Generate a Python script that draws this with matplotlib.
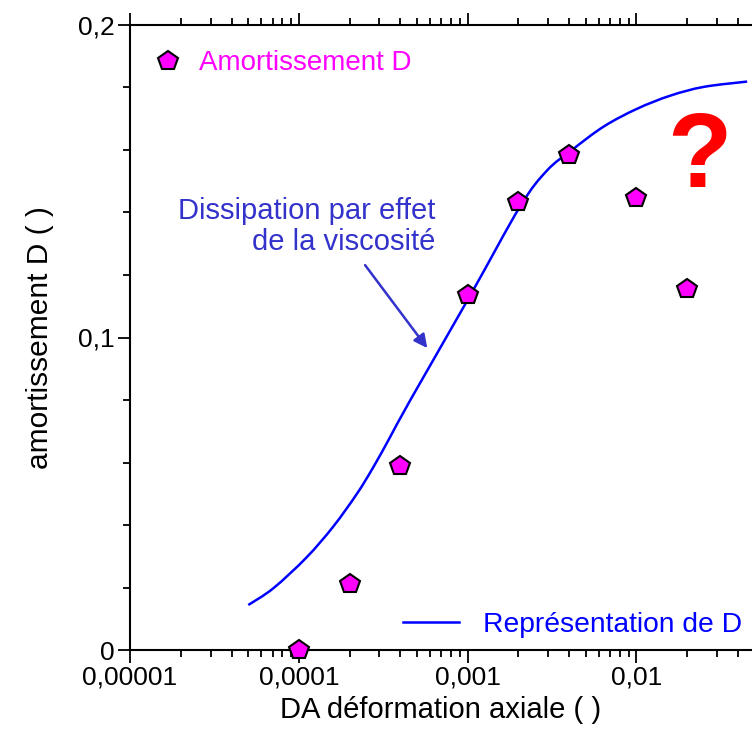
import numpy as np
import matplotlib.pyplot as plt
from matplotlib.lines import Line2D
from matplotlib.path import Path
from matplotlib.patches import PathPatch
from matplotlib.ticker import FixedLocator, FixedFormatter, MultipleLocator, LogLocator

plt.rcParams['font.family'] = ['Liberation Sans', 'DejaVu Sans']

# mesures (amortissement D)
def_axiale = [1e-4, 2e-4, 4e-4, 1e-3, 2e-3, 4e-3, 1e-2, 2e-2]
amort = [0.0, 0.021, 0.059, 0.1136, 0.1434, 0.1584, 0.1446, 0.1155]

# courbe "Représentation de D"
courbe_x = [5.02e-5, 7.08e-5, 1.11e-4, 1.60e-4, 2.21e-4, 2.77e-4, 3.48e-4, 4.57e-4,
            1.04e-3, 2.05e-3, 2.95e-3, 4.15e-3, 6.40e-3, 1.01e-2,
            1.59e-2, 2.51e-2, 4.53e-2]
courbe_y = [0.0144, 0.0198, 0.0296, 0.0395, 0.0500, 0.0586, 0.0682, 0.0799,
            0.1136, 0.1420, 0.1534, 0.1600, 0.1675, 0.1732,
            0.1774, 0.1802, 0.1819]

xticks = [1e-5, 1e-4, 1e-3, 1e-2]
xticklabels = ['0,00001', '0,0001', '0,001', '0,01']
yticks = [0, 0.1, 0.2]
yticklabels = ['0', '0,1', '0,2']

fig = plt.figure(figsize=(7.52, 7.36), dpi=100)
ax = fig.add_axes([130/752, 86/736, 622/752, 625/736])

ax.set_xscale('log')
ax.set_xlim(1e-5, 0.0484)
ax.set_ylim(0, 0.2)

# courbe lissée (bezier passant par les points lus, en log x)
pts = np.column_stack([np.log10(courbe_x), courbe_y])
ext = np.vstack([pts[0], pts, pts[-1]])
verts = [pts[0]]
codes = [Path.MOVETO]
for i in range(len(pts) - 1):
    p0, p1, p2, p3 = ext[i], ext[i + 1], ext[i + 2], ext[i + 3]
    verts += [p1 + (p2 - p0) / 6, p2 - (p3 - p1) / 6, p2]
    codes += [Path.CURVE4] * 3
verts = np.array(verts)
verts[:, 0] = 10 ** verts[:, 0]
ax.add_patch(PathPatch(Path(verts, codes), fill=False, edgecolor='#0000ff', lw=1.8,
                       clip_on=False, zorder=2))

ax.plot(def_axiale, amort, ls='none', marker='p', markersize=15,
        markerfacecolor='#ff00ff', markeredgecolor='black', markeredgewidth=1.5,
        clip_on=False, zorder=3)

ax.xaxis.set_major_locator(FixedLocator(xticks))
ax.xaxis.set_major_formatter(FixedFormatter(xticklabels))
ax.xaxis.set_minor_locator(LogLocator(base=10, subs=range(2, 10)))
ax.yaxis.set_major_locator(FixedLocator(yticks))
ax.yaxis.set_major_formatter(FixedFormatter(yticklabels))
ax.yaxis.set_minor_locator(MultipleLocator(0.02))

for s in ['left', 'bottom', 'top']:
    ax.spines[s].set_linewidth(1.5)
ax.spines['right'].set_visible(False)
ax.tick_params(which='both', direction='out', top=True, right=False, width=1.3,
               labelsize=19, pad=2)
ax.tick_params(which='major', length=9)
ax.tick_params(which='minor', length=5)

ax.set_xlabel('DA déformation axiale ( )', fontsize=21, labelpad=5)
ax.set_ylabel('amortissement D ( )', fontsize=21.5, labelpad=17)

h1 = Line2D([], [], ls='none', marker='p', markersize=15, markerfacecolor='#ff00ff',
            markeredgecolor='black', markeredgewidth=1.5)
leg1 = ax.legend([h1], ['Amortissement D'], loc='upper left',
                 bbox_to_anchor=(0.0, 1.0 - 6/625), frameon=False, fontsize=20,
                 labelcolor='#ff00ff', handlelength=1.3, handletextpad=0.47,
                 borderaxespad=0.3)
ax.add_artist(leg1)
h2 = Line2D([], [], color='#0000ff', lw=1.8)
ax.legend([h2], ['Représentation de D'], loc='lower right',
          bbox_to_anchor=(1.012, -0.008), frameon=False, fontsize=20.3,
          labelcolor='#0000ff', handlelength=2.0, handletextpad=0.85, borderaxespad=0.2)

ax.annotate('Dissipation par effet\nde la viscosité', xy=(5.77e-4, 0.0966),
            xytext=(6.43e-4, 0.1355), ha='right', va='center', fontsize=21,
            color='#3333cc', linespacing=1.1,
            arrowprops=dict(arrowstyle='-|>', color='#3333cc', lw=1.8,
                            mutation_scale=20, shrinkA=6, shrinkB=0,
                            relpos=(0.70, 0.0)))

ax.text(0.916, 0.785, '?', transform=ax.transAxes, ha='center', va='center',
        fontsize=76, fontweight='bold', color='#ff0000')

fig.savefig('out.png', dpi=100)
